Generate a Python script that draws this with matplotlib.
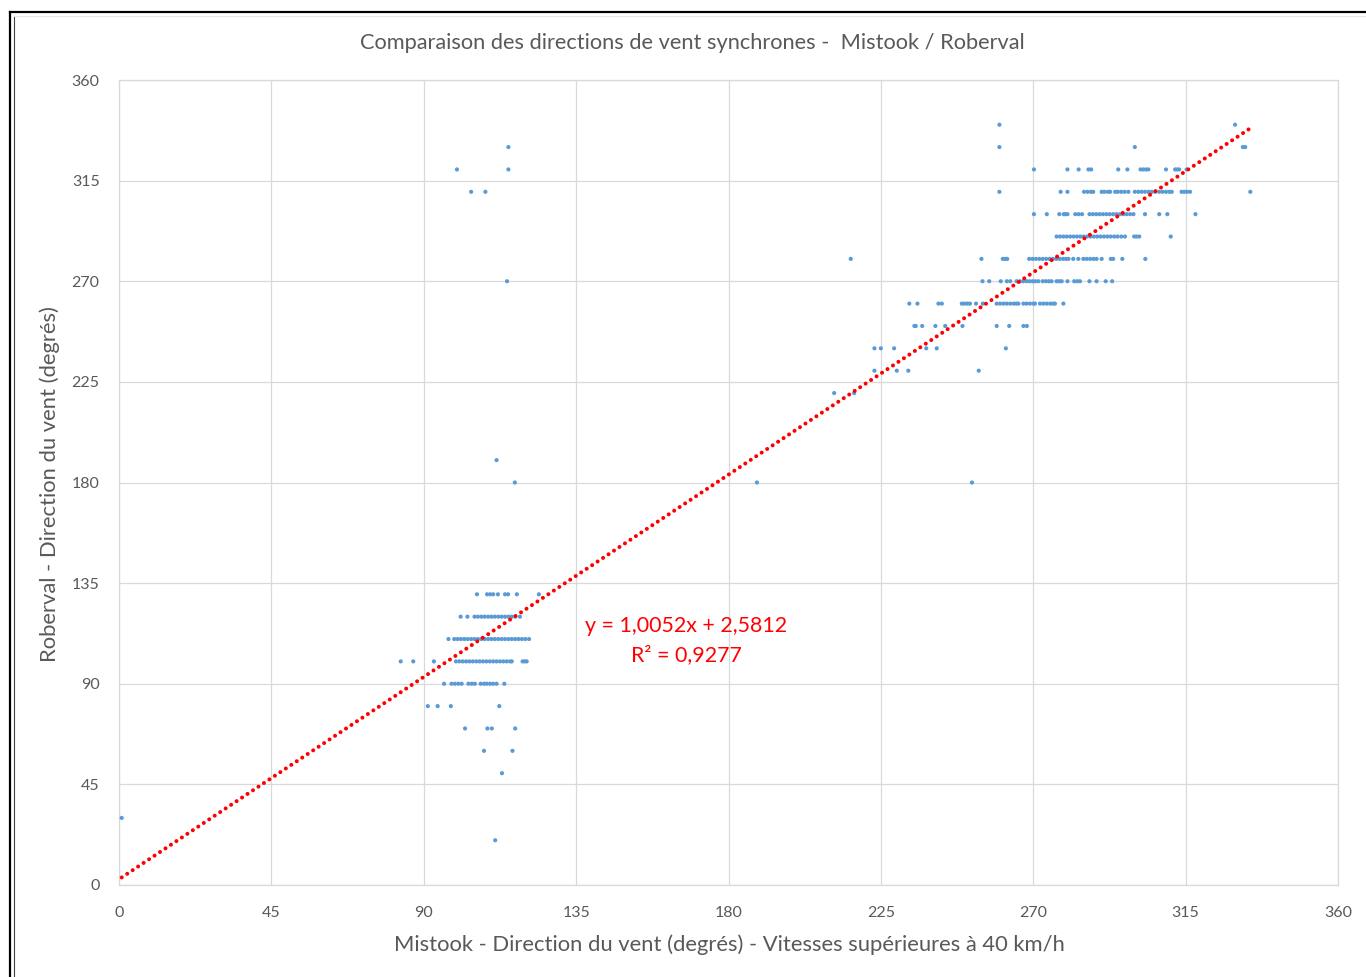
import matplotlib
matplotlib.use("Agg")
import matplotlib.pyplot as plt
from matplotlib.lines import Line2D
import numpy as np

plt.rcParams['font.family'] = ['Lato', 'DejaVu Sans']

# Mistook wind direction (degrees) for each Roberval direction (degrees, 10° steps)
mistook_at_20 = [111.1]
mistook_at_30 = [0.8]
mistook_at_50 = [113.1]
mistook_at_60 = [107.8, 116.2]
mistook_at_70 = [102.2, 108.8, 110.1, 117.0]
mistook_at_80 = [91.2, 94.1, 98.0, 112.3]
mistook_at_90 = [96.0, 98.2, 99.2, 100.2, 101.2, 103.2, 104.2, 105.1, 106.8, 107.8,
                 108.6, 109.6, 110.5, 111.5, 113.8]
mistook_at_100 = [83.2, 86.9, 93.0, 99.5, 100.5, 101.5, 102.5, 103.5, 104.5, 105.5,
                  106.5, 107.5, 108.5, 109.5, 110.5, 111.5, 112.5, 113.5, 114.5, 115.5,
                  116.0, 119.2, 119.8, 120.4]
mistook_at_110 = [97.3, 99.0, 100.0, 101.0, 102.0, 103.0, 104.0, 105.0, 106.0, 107.0,
                  108.0, 109.0, 110.0, 111.0, 112.0, 113.0, 114.0, 115.0, 116.0, 117.0,
                  118.0, 119.0, 120.0, 121.1]
mistook_at_120 = [100.9, 102.9, 105.0, 106.0, 107.0, 108.0, 109.0, 110.0, 111.0, 112.0,
                  113.0, 114.0, 115.0, 116.0, 117.0, 118.4]
mistook_at_130 = [105.7, 108.7, 109.6, 110.5, 111.9, 114.0, 114.9, 117.5, 124.0]
mistook_at_180 = [116.9, 188.4, 251.9]
mistook_at_190 = [111.5]
mistook_at_220 = [211.2, 217.1]
mistook_at_230 = [223.1, 229.7, 233.1, 253.9]
mistook_at_240 = [223.1, 225.0, 228.9, 238.4, 241.5, 261.9]
mistook_at_250 = [234.9, 235.3, 237.2, 241.1, 244.0, 249.1, 259.2, 262.9, 267.1, 268.1]
mistook_at_260 = [233.4, 235.8, 242.0, 243.0, 248.9, 249.7, 250.5, 251.3, 253.1, 255.1,
                  259.2, 260.2, 261.2, 262.2, 263.2, 264.2, 265.0, 265.6, 267.1, 268.0,
                  269.0, 270.0, 270.5, 272.0, 273.0, 274.0, 275.0, 275.8, 276.4, 278.9]
mistook_at_270 = [114.6, 255.0, 257.0, 260.4, 262.2, 263.2, 265.1, 266.0, 267.0, 268.0,
                  268.9, 269.8, 270.6, 271.5, 272.8, 273.7, 274.6, 275.4, 276.9, 277.7,
                  278.4, 280.1, 282.1, 283.0, 283.8, 286.6, 288.7, 291.4, 293.3]
mistook_at_280 = [216.1, 254.7, 261.0, 261.7, 262.3, 268.8, 269.8, 270.8, 271.8, 272.8,
                  273.8, 274.8, 275.8, 276.8, 277.8, 278.8, 279.6, 280.4, 281.8, 283.3,
                  284.8, 285.8, 286.8, 287.8, 288.7, 290.2, 292.9, 293.6, 296.3, 303.1]
mistook_at_290 = [276.9, 277.9, 278.9, 279.9, 280.9, 281.9, 282.9, 283.9, 284.9, 285.9,
                  286.9, 287.9, 288.9, 289.9, 290.9, 291.9, 292.9, 293.9, 294.9, 296.0,
                  297.1, 299.8, 300.5, 301.3, 310.6]
mistook_at_300 = [270.2, 274.0, 277.7, 279.0, 279.5, 280.1, 282.4, 283.4, 284.4, 286.6,
                  287.6, 288.6, 289.6, 290.6, 291.6, 292.6, 293.6, 294.6, 295.6, 296.6,
                  297.6, 298.6, 299.6, 303.0, 307.2, 309.6, 317.9]
mistook_at_310 = [104.0, 108.2, 260.0, 278.1, 280.1, 285.0, 286.0, 287.0, 287.7, 290.2,
                  291.0, 292.0, 292.7, 294.2, 295.0, 296.0, 297.0, 298.1, 300.0, 301.0,
                  302.0, 303.0, 304.0, 305.0, 306.0, 307.2, 308.2, 309.2, 310.2, 310.9,
                  313.8, 314.6, 315.4, 316.3, 334.1]
mistook_at_320 = [99.8, 115.0, 270.2, 280.1, 283.4, 286.3, 287.1, 295.1, 297.8, 301.7,
                  302.5, 303.3, 304.0, 309.2, 311.9, 312.5, 313.1, 315.3]
mistook_at_330 = [115.0, 260.0, 300.0, 331.9, 332.6]
mistook_at_340 = [260.0, 329.6]

rows = {
    20: mistook_at_20, 30: mistook_at_30, 50: mistook_at_50, 60: mistook_at_60,
    70: mistook_at_70, 80: mistook_at_80, 90: mistook_at_90, 100: mistook_at_100,
    110: mistook_at_110, 120: mistook_at_120, 130: mistook_at_130,
    180: mistook_at_180, 190: mistook_at_190, 220: mistook_at_220,
    230: mistook_at_230, 240: mistook_at_240, 250: mistook_at_250,
    260: mistook_at_260, 270: mistook_at_270, 280: mistook_at_280,
    290: mistook_at_290, 300: mistook_at_300, 310: mistook_at_310,
    320: mistook_at_320, 330: mistook_at_330, 340: mistook_at_340,
}
mistook = np.concatenate([np.asarray(v, float) for v in rows.values()])
roberval = np.concatenate([np.full(len(v), k, float) for k, v in rows.items()])

# Linear trend reported on the chart
slope = 1.0052
intercept = 2.5812
r_squared = 0.9277

ticks = [0, 45, 90, 135, 180, 225, 270, 315, 360]

title = "Comparaison des directions de vent synchrones -  Mistook / Roberval"
xlabel = "Mistook - Direction du vent (degrés) - Vitesses supérieures à 40 km/h"
ylabel = "Roberval - Direction du vent (degrés)"

W, H = 1366, 977
fig = plt.figure(figsize=(W / 100, H / 100), dpi=100)
fig.patch.set_facecolor("white")

ax = fig.add_axes([119 / W, 1 - 885 / H, (1338 - 119) / W, (885 - 80) / H])
ax.set_xlim(0, 360)
ax.set_ylim(0, 360)
ax.set_xticks(ticks)
ax.set_yticks(ticks)
ax.grid(True, color="#D9D9D9", linewidth=0.9)
ax.set_axisbelow(True)
for sp in ax.spines.values():
    sp.set_color("#D9D9D9")
    sp.set_linewidth(0.9)
ax.tick_params(length=0, labelsize=11.5, labelcolor="#595959")
ax.tick_params(axis="x", pad=15)
ax.tick_params(axis="y", pad=14)

ax.scatter(mistook, roberval, s=9, color="#5B9BD5", edgecolors="none", zorder=3)

xt = np.array([mistook.min(), mistook.max()])
ax.plot(xt, slope * xt + intercept, color="#FF0000", linewidth=2.9,
        dashes=(0.01, 1.62), dash_capstyle="round", zorder=4)

eq = f"y = {slope:.4f}x + {intercept:.4f}".replace(".", ",")
r2 = f"R² = {r_squared:.4f}".replace(".", ",")
ax.text(167.5, 115.8, eq, color="#FF0000", fontsize=15.4, ha="center", va="center")
ax.text(167.5, 102.8, r2, color="#FF0000", fontsize=15.4, ha="center", va="center")

fig.text(692 / W, 1 - 43 / H, title, ha="center", va="center",
         fontsize=15.7, color="#595959")
fig.text(729 / W, 1 - 945 / H, xlabel, ha="center", va="center",
         fontsize=15.8, color="#595959")
fig.text(50 / W, 1 - 484 / H, ylabel, ha="center", va="center",
         rotation=90, fontsize=15.8, color="#595959")

# Outer frame of the chart area
fig.add_artist(Line2D([10 / W, 1], [1 - 12 / H, 1 - 12 / H], color="black",
                      linewidth=1.6, transform=fig.transFigure))
fig.add_artist(Line2D([10 / W, 10 / W], [0, 1 - 12 / H], color="black",
                      linewidth=1.6, transform=fig.transFigure))
fig.add_artist(Line2D([13.5 / W, 13.5 / W], [0, 1 - 16 / H], color="#404040",
                      linewidth=0.8, transform=fig.transFigure))
fig.add_artist(Line2D([13.5 / W, 1], [1 - 16 / H, 1 - 16 / H], color="#E6E6E6",
                      linewidth=0.8, transform=fig.transFigure))

fig.savefig("out.png", dpi=100, facecolor="white")
